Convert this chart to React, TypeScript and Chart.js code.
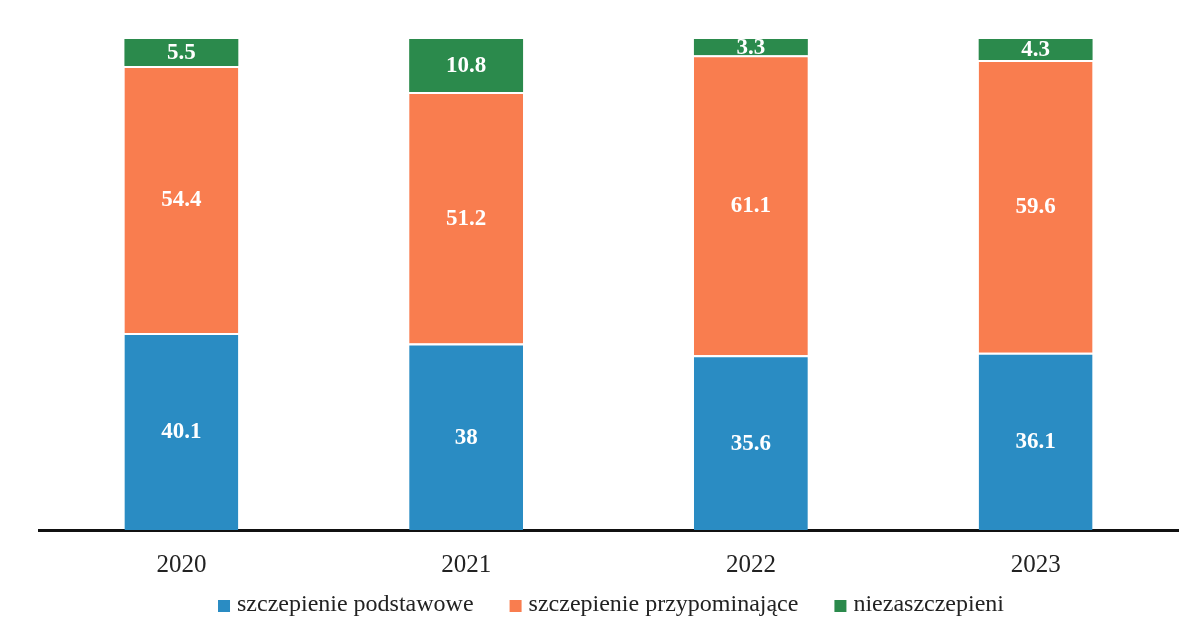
import React, { useEffect, useRef } from "react";
import { Chart, registerables } from "chart.js";

Chart.register(...registerables);

const years = ["2020", "2021", "2022", "2023"];
const podstawowe = [40.1, 38, 35.6, 36.1];
const przypominajace = [54.4, 51.2, 61.1, 59.6];
const niezaszczepieni = [5.5, 10.8, 3.3, 4.3];
const seriesNames = ["szczepienie podstawowe", "szczepienie przypominające", "niezaszczepieni"];
const seriesColors = ["#2a8cc3", "#f97d4f", "#2b8a4c"];

const SERIF = "'Liberation Serif', 'DejaVu Serif', serif";

const labelPlugin = {
  id: "segmentLabels",
  afterDatasetsDraw(chart: any) {
    const ctx = chart.ctx;
    ctx.save();
    ctx.fillStyle = "#ffffff";
    ctx.font = `bold 23px ${SERIF}`;
    ctx.textAlign = "center";
    ctx.textBaseline = "middle";
    chart.data.datasets.forEach((ds: any, di: number) => {
      const meta = chart.getDatasetMeta(di);
      meta.data.forEach((el: any, i: number) => {
        const v = ds.data[i];
        const y = (el.y + el.base) / 2;
        ctx.fillText(String(v), el.x, y + 1);
      });
    });
    ctx.restore();
  },
};

const legendPlugin = {
  id: "customLegend",
  afterDraw(chart: any) {
    const ctx = chart.ctx;
    ctx.save();
    ctx.font = `24px ${SERIF}`;
    ctx.textBaseline = "middle";
    ctx.textAlign = "left";
    const box = 12;
    const boxGap = 7;
    const itemGap = 36;
    const items = chart.data.datasets.map((ds: any) => ({
      text: ds.label as string,
      color: ds.backgroundColor as string,
      w: ctx.measureText(ds.label).width,
    }));
    const total = items.reduce((s: number, it: any) => s + box + boxGap + it.w, 0) + itemGap * (items.length - 1);
    let x = 611 - total / 2;
    const y = 605;
    items.forEach((it: any) => {
      ctx.fillStyle = it.color;
      ctx.fillRect(x, y - box / 2 + 1, box, box);
      x += box + boxGap;
      ctx.fillStyle = "#222222";
      ctx.fillText(it.text, x, y);
      x += it.w + itemGap;
    });
    ctx.restore();
  },
};

export default function App() {
  const ref = useRef<HTMLCanvasElement | null>(null);
  useEffect(() => {
    document.body.style.margin = "0";
    const canvas = ref.current!;
    const chart = new Chart(canvas, {
      type: "bar",
      data: {
        labels: years,
        datasets: [
          {
            label: seriesNames[0],
            data: podstawowe,
            backgroundColor: seriesColors[0],
            borderColor: "#ffffff",
            borderWidth: { top: 2, left: 0, right: 0, bottom: 0 },
            borderSkipped: false,
          },
          {
            label: seriesNames[1],
            data: przypominajace,
            backgroundColor: seriesColors[1],
            borderColor: "#ffffff",
            borderWidth: { top: 2, left: 0, right: 0, bottom: 0 },
            borderSkipped: false,
          },
          {
            label: seriesNames[2],
            data: niezaszczepieni,
            backgroundColor: seriesColors[2],
            borderWidth: 0,
          },
        ],
      },
      options: {
        animation: false,
        responsive: false,
        maintainAspectRatio: false,
        layout: { padding: { left: 39, right: 17, top: 39, bottom: 34 } },
        datasets: { bar: { categoryPercentage: 0.8, barPercentage: 0.5 } },
        scales: {
          x: {
            stacked: true,
            grid: { display: false, drawTicks: false },
            border: { display: true, color: "#111111", width: 3 },
            ticks: {
              color: "#222222",
              font: { family: SERIF, size: 25 },
              padding: 20,
            },
          },
          y: {
            stacked: true,
            display: false,
            min: 0,
            max: 100,
          },
        },
        plugins: {
          legend: { display: false },
          tooltip: { enabled: false },
        },
      },
      plugins: [labelPlugin, legendPlugin],
    });
    return () => chart.destroy();
  }, []);
  return (
    <div style={{ position: "absolute", left: 0, top: 0, width: 1195, height: 634, background: "#ffffff" }}>
      <canvas ref={ref} width={1195} height={634} style={{ display: "block" }} />
    </div>
  );
}
